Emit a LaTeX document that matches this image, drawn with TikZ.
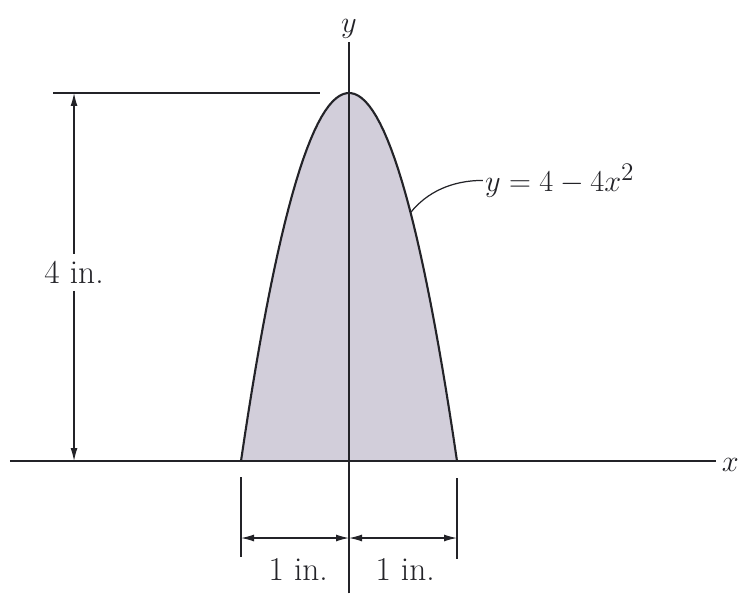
\documentclass[tikz,border=0pt]{standalone}
\usetikzlibrary{arrows.meta, positioning}
\definecolor{ink}{RGB}{35,35,40}
\definecolor{areafill}{RGB}{210,206,218}

\begin{document}
\begin{tikzpicture}[
    x=2.16cm, y=1.84cm,
    axis/.style={line width=1.1pt, ink},
    curve/.style={line width=1.2pt, ink},
    ext/.style={line width=0.7pt, ink},
    dim/.style={{Latex[length=2.6mm,width=1.4mm]}-{Latex[length=2.6mm,width=1.4mm]}, line width=0.7pt, ink},
    dimarrow/.style={-{Latex[length=2.6mm,width=1.4mm]}, line width=0.7pt, ink},
    lbl/.style={font=\fontsize{19}{23}\selectfont, text=ink, inner sep=1pt},
]
\useasboundingbox (-3.2315,-1.4348) rectangle (3.6389,5.0109);

% Area under the parabola
\fill[areafill] plot[domain=-1:1, samples=60] (\x,{4-4*\x*\x}) -- cycle;
\draw[curve] plot[domain=-1:1, samples=60] (\x,{4-4*\x*\x});

% Axes
\coordinate (xl) at (-3.14,0);
\coordinate (xr) at (3.40,0);
\coordinate (yb) at (0,-1.44);
\coordinate (yt) at (0,4.55);
\draw[axis] (xl) -- (xr);
\draw[axis] (yb) -- (yt);
\node[lbl, right=2pt of xr, yshift=-2pt] (xlab) {$x$};
\node[lbl, above=1pt of yt] (ylab) {$y$};

% Height dimension
\coordinate (htop) at (-2.546,4);
\coordinate (hbot) at (-2.546,0);
\coordinate (extl) at (-2.74,4);
\coordinate (extr) at (-0.27,4);
\draw[ext] (extl) -- (extr);
\node[lbl, fill=white, inner sep=4pt] (hlab) at (-2.546,2.05) {4 in.};
\draw[dimarrow] (hlab.north) -- (htop);
\draw[dimarrow] (hlab.south) -- (hbot);

% Width dimensions
\coordinate (lt) at (-1,-0.174);
\coordinate (lb) at (-1,-1.043);
\coordinate (rt) at (1,-0.19);
\coordinate (rb) at (1,-1.07);
\draw[ext] (lt) -- (lb);
\draw[ext] (rt) -- (rb);
\coordinate (dl) at (-1,-0.837);
\coordinate (dm) at (0,-0.837);
\coordinate (dr) at (1,-0.837);
\draw[dim] (dl) -- (dm);
\draw[dim] (dm) -- (dr);
\node[lbl] (wlabl) at (-0.47,-1.174) {1 in.};
\node[lbl] (wlabr) at (0.52,-1.174) {1 in.};

% Curve label
\coordinate (cp) at (0.57,2.70);
\node[lbl, anchor=west] (eq) at (1.24,3.05) {$y = 4 - 4x^2$};
\draw[ext] (cp) .. controls (0.72,2.92) and (0.95,3.05) .. (eq.west);

\end{tikzpicture}
\end{document}
